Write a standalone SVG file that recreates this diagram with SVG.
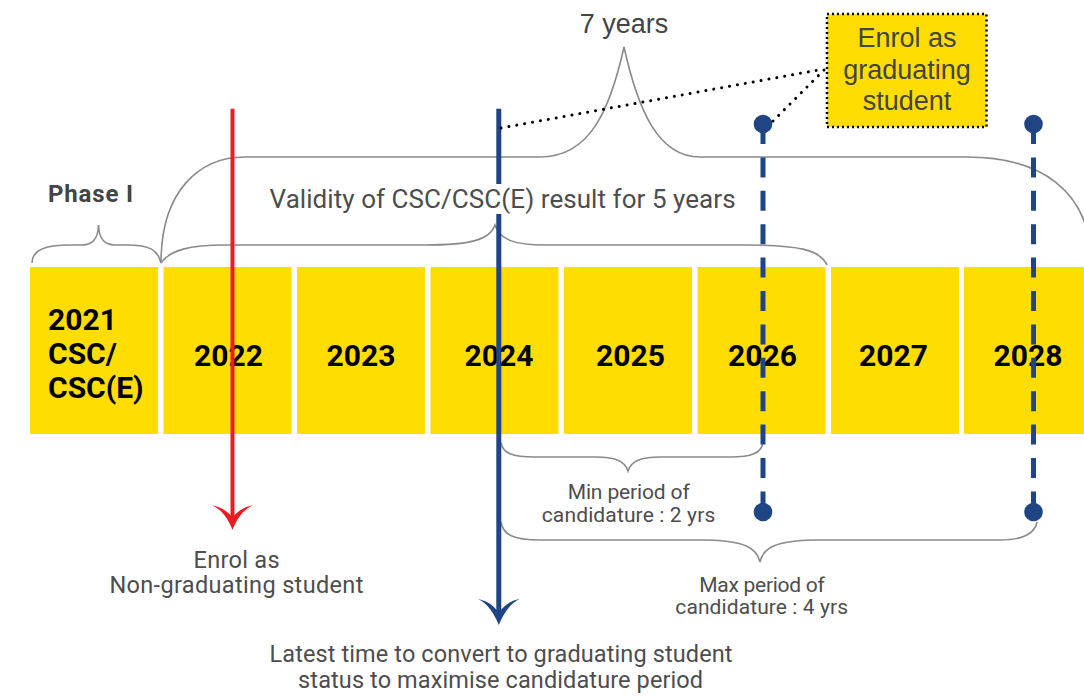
<svg xmlns="http://www.w3.org/2000/svg" width="1084" height="697" viewBox="0 0 1084 697">
<defs>
<style>
.yr{fill:#FFDD00}
.yt{font-family:Roboto,"DejaVu Sans",sans-serif;font-weight:700;font-size:30px;fill:#000;text-anchor:middle}
.yts{font-family:Roboto,"DejaVu Sans",sans-serif;font-weight:700;font-size:30px;fill:#000}
.lbl{font-family:Roboto,"DejaVu Sans",sans-serif;fill:#4d4d4d;text-anchor:middle}
.brace{fill:none;stroke:#8a8a8a;stroke-width:1.6}
.dash{stroke:#1f4585;stroke-width:5;stroke-dasharray:20 13.4;fill:none}
.dot{fill:#1f4585}
.dotted{fill:none;stroke:#000;stroke-width:3;stroke-linecap:round;stroke-dasharray:0.01 8}
.arial{font-family:"Liberation Sans",Arial,sans-serif;font-size:27px;fill:#444;text-anchor:middle}
</style>
</defs>
<rect x="0" y="0" width="1084" height="697" fill="#fff"/>

<g id="y2021"><rect class="yr" x="30" y="267" width="128" height="167"/>
<text class="yts" x="48" y="330">2021</text><text class="yts" x="48" y="364">CSC/</text><text class="yts" x="48" y="397.5">CSC(E)</text></g>
<g id="y2022"><rect class="yr" x="163.5" y="267" width="128" height="167"/><text class="yt" x="228.5" y="366">2022</text></g>
<g id="y2023"><rect class="yr" x="297" y="267" width="128" height="167"/><text class="yt" x="361" y="366">2023</text></g>
<g id="y2024"><rect class="yr" x="430.5" y="267" width="128" height="167"/><text class="yt" x="499" y="366">2024</text></g>
<g id="y2025"><rect class="yr" x="564" y="267" width="128" height="167"/><text class="yt" x="630.5" y="366">2025</text></g>
<g id="y2026"><rect class="yr" x="697.5" y="267" width="128" height="167"/><text class="yt" x="762.5" y="366">2026</text></g>
<g id="y2027"><rect class="yr" x="831" y="267" width="128" height="167"/><text class="yt" x="893.5" y="366">2027</text></g>
<g id="y2028"><rect class="yr" x="964" y="267" width="128" height="167"/><text class="yt" x="1028" y="366">2028</text></g>

<g id="connectors">
  <!-- braces -->
  <path class="brace" d="M32 263 C32 250 45 245 70 245 L82 245 C92 245 98 240 98.5 225 C99 240 105 245 115 245 L127 245 C150 245 158 250 161 263"/>
  <path class="brace" d="M161 263 C170 250 190 245 225 245 L425 245 C470 245 490 240 495 225 C500 240 515 245 545 245 L745 245 C800 245 820 250 827 265"/>
  <path class="brace" d="M161 263 C161 190 200 157 245 157 L540 157 C590 157 610 110 624 47 C638 110 658 157 700 157 L967 157 C1040 157 1090 190 1092 263"/>
  <path class="brace" d="M501 443 C503 453 512 457 535 457 L595 457 C615 457 625 461 628 471 C631 461 641 457 661 457 L730 457 C752 457 761 453 763 443"/>
  <path class="brace" d="M501 522 C503 534 512 540 540 540 L700 540 C745 540 757 548 760 562 C763 548 775 540 820 540 L1000 540 C1025 540 1035 532 1037 522"/>
  <!-- red arrow -->
  <line x1="232.5" y1="108.7" x2="232.5" y2="519" stroke="#ED1C24" stroke-width="4"/>
  <path fill="#ED1C24" d="M232.5 530 C228 518 221 509 211.5 505 C221 507 228 511 232.5 518 C237 511 244 507 253.5 505 C244 509 237 518 232.5 530 Z"/>
  <!-- blue arrow -->
  <line x1="498.8" y1="108.7" x2="498.8" y2="613" stroke="#1f4585" stroke-width="5"/>
  <path fill="#1f4585" d="M498.8 625 C494 613 487 603 478 599 C488 601 494 606 498.8 612.5 C503.6 606 509.6 601 519.6 599 C510.6 603 503.6 613 498.8 625 Z"/>
  <!-- dashed lines -->
  <line class="dash" x1="763" y1="124" x2="763" y2="512"/>
  <circle class="dot" cx="763" cy="124" r="9.3"/>
  <circle class="dot" cx="763" cy="512" r="9.3"/>
  <line class="dash" x1="1033.5" y1="124" x2="1033.5" y2="512"/>
  <circle class="dot" cx="1033.5" cy="124" r="9.3"/>
  <circle class="dot" cx="1033.5" cy="512" r="9.3"/>
  <!-- dotted pointers -->
  <path class="dotted" d="M501 128 L824 69"/>
  <path class="dotted" d="M773 121 L824 70"/>
</g>

<g id="seven-years"><text class="arial" x="624" y="33">7 years</text></g>

<g id="callout">
  <rect x="827" y="14" width="159.5" height="113" fill="#FFDD00" stroke="#000" stroke-width="2.5" stroke-dasharray="2 3"/>
  <text class="arial" x="907" y="47">Enrol as</text>
  <text class="arial" x="907" y="78.5">graduating</text>
  <text class="arial" x="907" y="110">student</text>
</g>

<g id="phase"><text x="48" y="201.7" font-family="Roboto, 'DejaVu Sans', sans-serif" font-weight="700" font-size="24" fill="#444" textLength="85">Phase I</text></g>

<g id="validity">
  <rect x="266" y="184" width="475" height="30" fill="#fff"/>
  <text x="269.6" y="208.3" font-family="Roboto, 'DejaVu Sans', sans-serif" font-size="26" fill="#4d4d4d" textLength="466">Validity of CSC/CSC(E) result for 5 years</text>
</g>

<g id="min-label">
  <text class="lbl" x="628.7" y="499.3" font-size="21" textLength="122">Min period of</text>
  <text class="lbl" x="628.5" y="521.7" font-size="21" textLength="173.5">candidature : 2 yrs</text>
</g>
<g id="max-label">
  <text class="lbl" x="762" y="591.7" font-size="21" textLength="125.5">Max period of</text>
  <text class="lbl" x="761.7" y="614" font-size="21" textLength="172.8">candidature : 4 yrs</text>
</g>
<g id="enrol-ng">
  <text class="lbl" x="236.6" y="567.7" font-size="23.5" textLength="86">Enrol as</text>
  <text class="lbl" x="236.4" y="593.3" font-size="23.5" textLength="254">Non-graduating student</text>
</g>
<g id="latest">
  <text class="lbl" x="501" y="662.3" font-size="23.5" textLength="463">Latest time to convert to graduating student</text>
  <text class="lbl" x="500.6" y="688.3" font-size="23.5" textLength="405">status to maximise candidature period</text>
</g>
</svg>
